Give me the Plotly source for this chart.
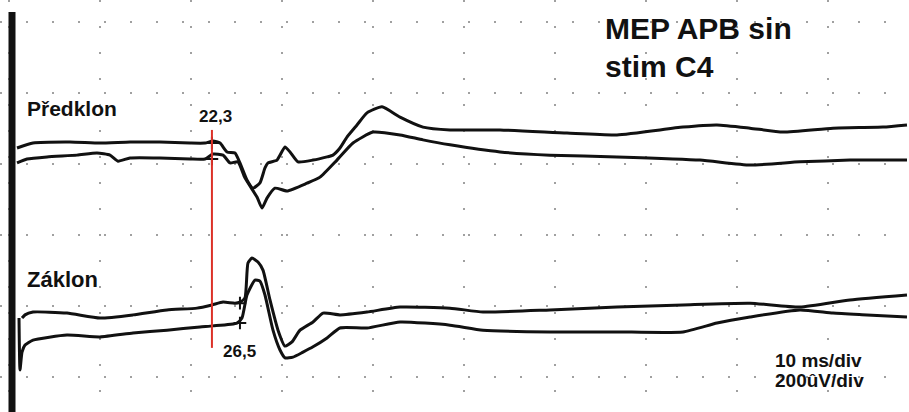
import plotly.graph_objects as go

# ---- data (time in ms after stimulus, amplitude in µV) ----
predklon_a_t = [0.88, 2.64, 6.70, 10.0, 13.30, 16.59, 19.89, 21.54, 22.42, 23.19, 23.96, 24.84, 25.38,
                26.15, 26.81, 27.58, 28.13, 28.46, 29.45, 30.33, 30.88, 31.76, 33.41, 34.95, 35.60,
                36.37, 37.14, 38.24, 39.34, 40.99, 42.97, 45.49, 48.46, 53.96, 61.32, 66.81, 74.07,
                77.80, 81.43, 85.05, 90.55, 96.04, 98.68]
predklon_a_uV = [645, 659, 662, 659, 662, 662, 659, 659, 665, 659, 634, 631, 603, 555, 532, 547, 589,
                 603, 611, 648, 634, 606, 611, 620, 625, 645, 676, 710, 744, 761, 732, 704, 696, 696,
                 687, 682, 704, 710, 701, 690, 701, 704, 710]

predklon_b_t = [0.88, 1.98, 4.18, 7.47, 9.67, 11.10, 11.98, 13.30, 16.59, 19.89, 21.54, 22.42, 23.52,
                24.29, 25.16, 25.93, 27.25, 27.80, 28.35, 29.23, 30.55, 32.75, 34.18, 36.04, 37.80,
                40.0, 42.97, 45.49, 48.46, 53.96, 59.45, 66.81, 75.93, 81.43, 86.92, 92.42, 98.68]
predklon_b_uV = [603, 614, 620, 625, 631, 625, 608, 617, 617, 614, 614, 628, 625, 603, 606, 561, 507,
                 476, 504, 532, 524, 546, 563, 611, 659, 690, 682, 668, 654, 634, 625, 620, 611, 597,
                 606, 611, 611]

zaklon_a_t = [1.43, 1.76, 2.64, 6.37, 10.0, 13.63, 17.36, 20.66, 22.31, 23.52, 24.84, 25.38, 25.93,
              26.26, 26.70, 27.36, 27.91, 28.68, 29.56, 30.33, 31.10, 31.98, 33.41, 34.51, 36.37,
              39.34, 42.97, 48.46, 52.09, 59.45, 66.81, 74.07, 81.43, 86.92, 92.42, 98.68]
zaklon_a_uV = [166, 175, 183, 180, 166, 175, 189, 194, 203, 211, 208, 211, 223, 321, 335, 324, 301,
               217, 132, 87, 99, 132, 155, 180, 175, 183, 197, 194, 183, 189, 197, 203, 208, 197,
               217, 231]

zaklon_b_t = [1.10, 1.21, 1.43, 1.76, 2.64, 6.37, 10.0, 13.63, 17.36, 20.99, 22.42, 25.05, 25.60,
              26.15, 27.03, 27.58, 28.13, 29.01, 29.78, 30.33, 31.21, 32.31, 33.41, 34.95, 36.37,
              39.34, 42.97, 48.46, 52.09, 59.45, 66.81, 74.07, 77.80, 81.43, 86.92, 90.55, 94.29,
              98.68]
zaklon_b_uV = [166, 20, 70, 90, 104, 118, 113, 124, 132, 141, 144, 152, 166, 231, 273, 270, 231, 132,
               76, 54, 56, 70, 85, 110, 138, 138, 155, 146, 132, 127, 127, 127, 152, 169, 189, 180,
               175, 169]

cursor_t = [22.3, 22.3, 25.38, 25.38]
cursor_uV = [659, 614, 208, 152]

latency_t = [22.3, 22.3]
latency_uV = [82, 696]

labels = ["MEP APB sin", "stim C4", "Předklon", "22,3", "Záklon", "26,5", "10 ms/div", "200ûV/div"]

# ---- figure ----
W, H = 909, 412
FONT = "Liberation Sans, Arial, sans-serif"

fig = go.Figure()
for t, v in [(predklon_a_t, predklon_a_uV), (predklon_b_t, predklon_b_uV),
             (zaklon_a_t, zaklon_a_uV), (zaklon_b_t, zaklon_b_uV)]:
    fig.add_trace(go.Scatter(x=t, y=v, mode="lines",
                             line=dict(color="#111111", width=3, shape="spline", smoothing=0.5),
                             hoverinfo="skip", showlegend=False))

fig.add_trace(go.Scatter(x=cursor_t, y=cursor_uV, mode="markers",
                         marker=dict(symbol="cross-thin", size=9, line=dict(color="#111111", width=2)),
                         hoverinfo="skip", showlegend=False))

fig.add_trace(go.Scatter(x=latency_t, y=latency_uV, mode="lines",
                         line=dict(color="#dc3128", width=2),
                         hoverinfo="skip", showlegend=False))

# left recorder border (frame element)
fig.add_shape(type="line", xref="paper", yref="paper", x0=12 / W, x1=12 / W, y0=0, y1=1 - 12 / H,
              line=dict(color="#111111", width=7))

# label layout: (left px, text centre px, size)
label_pos = [(603, 29, 30), (603, 66, 30), (25, 108, 21), (197, 116, 17),
             (25, 279, 22), (221, 351, 17), (773, 360, 19), (773, 380, 19)]
for txt, (px, py, sz) in zip(labels, label_pos):
    fig.add_annotation(text=txt, xref="paper", yref="paper", x=px / W, y=1 - py / H,
                       xanchor="left", yanchor="middle", showarrow=False,
                       font=dict(family=FONT, size=sz, color="#111111", weight="bold"))

fig.update_xaxes(range=[-9 / 9.1, 900 / 9.1], dtick=10, tick0=0,
                 showgrid=True, gridcolor="#a0a0a0", gridwidth=2, griddash="2px,24px",
                 zeroline=False, showticklabels=False, ticks="", showline=False)
fig.update_yaxes(range=[-98.6, 1062.0], dtick=200, tick0=0,
                 showgrid=True, gridcolor="#a0a0a0", gridwidth=2, griddash="2px,24px",
                 zeroline=False, showticklabels=False, ticks="", showline=False)

fig.update_layout(width=W, height=H, margin=dict(l=0, r=0, t=0, b=0),
                  paper_bgcolor="white", plot_bgcolor="white", showlegend=False)

fig.write_html("out.html")
